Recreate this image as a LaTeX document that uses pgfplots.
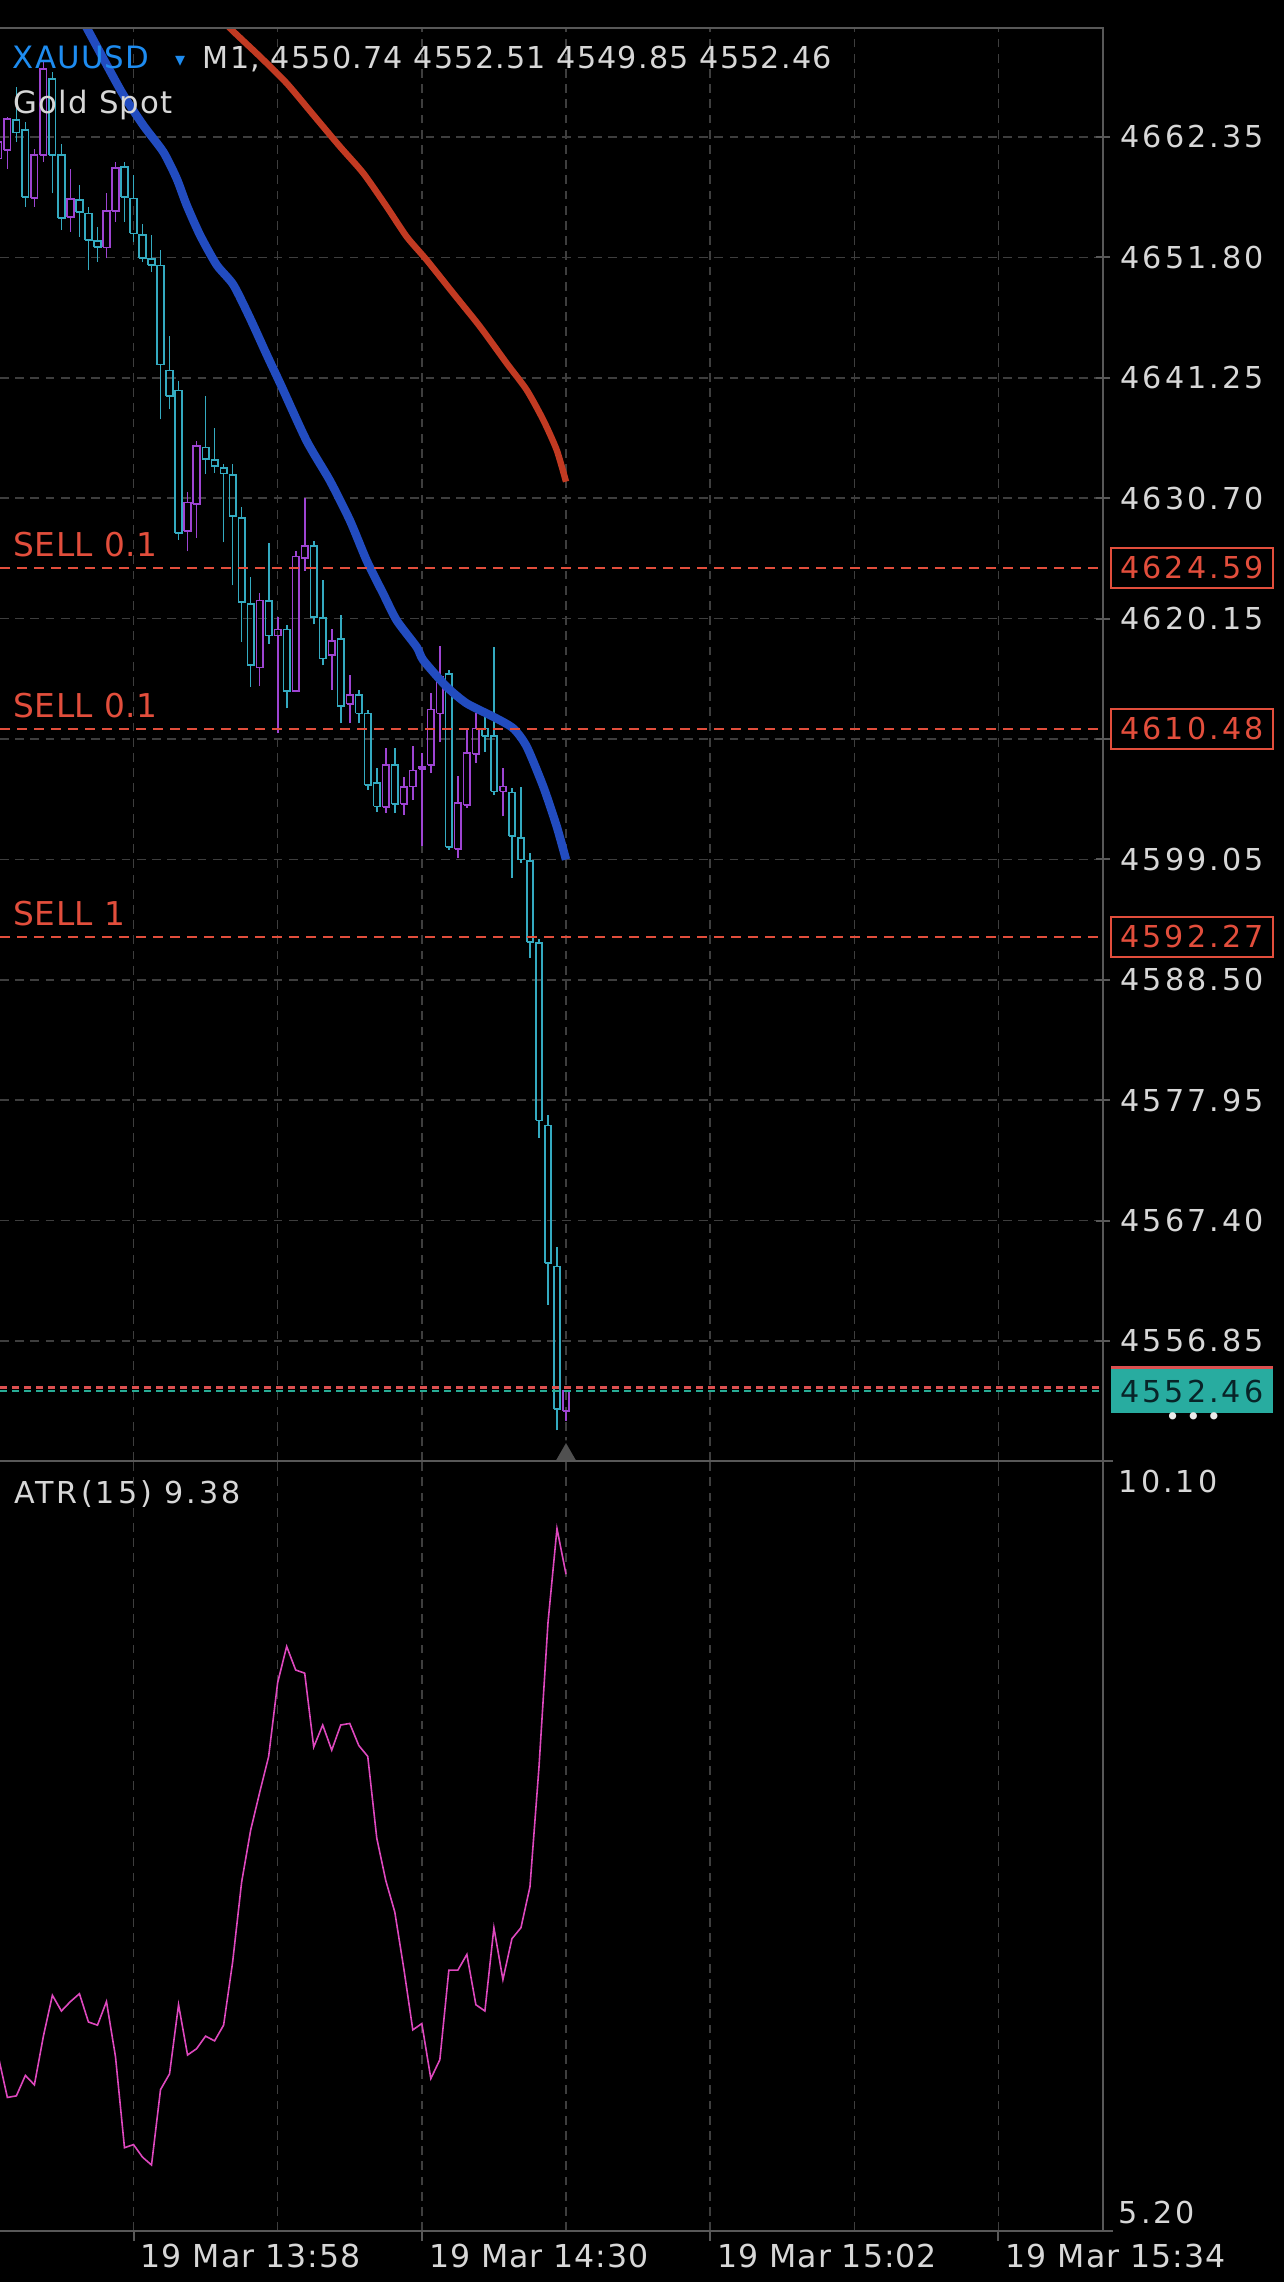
\documentclass[border=0pt]{standalone}
\usepackage{pgfplots}
\pgfplotsset{compat=1.18}
\usepackage{pgfplotstable}
\usepackage{fontspec}
\setmainfont{DejaVu Sans}
\newfontfamily\labfont[LetterSpace=10]{DejaVu Sans}
\newfontfamily\hdrfont[LetterSpace=4]{DejaVu Sans}
\newfontfamily\timfont[LetterSpace=3]{DejaVu Sans}
\newfontfamily\sellfont[LetterSpace=1.5]{DejaVu Sans}

\definecolor{bearc}{RGB}{52,170,192}
\definecolor{bullc}{RGB}{158,68,210}
\definecolor{mablue}{RGB}{34,76,192}
\definecolor{mared}{RGB}{194,58,34}
\definecolor{gridc}{RGB}{62,62,62}
\definecolor{axc}{RGB}{88,88,88}
\definecolor{labc}{RGB}{215,215,215}
\definecolor{sellred}{RGB}{226,78,60}
\definecolor{atrc}{RGB}{222,72,190}
\definecolor{xaublue}{RGB}{30,140,240}
\definecolor{tealbox}{RGB}{40,172,160}
\definecolor{tealtxt}{RGB}{8,36,40}
\definecolor{bidline}{RGB}{40,172,150}
\definecolor{askline}{RGB}{220,80,80}
\definecolor{trig}{RGB}{80,80,80}

% minute index (0 = 19 Mar 13:58), open, high, low, close
\pgfplotstableread{
m O H L C
-15 4660.46 4663.22 4659.29 4661.91
-14 4661.19 4664.10 4659.58 4663.95
-13 4663.81 4666.72 4661.91 4662.73
-12 4662.94 4663.66 4656.24 4657.11
-11 4657.02 4661.33 4656.24 4660.80
-10 4660.75 4668.90 4660.17 4668.31
-9 4667.44 4668.03 4657.40 4660.80
-8 4660.80 4661.77 4654.20 4655.28
-7 4655.36 4659.53 4654.05 4656.91
-6 4656.82 4658.13 4653.62 4655.80
-5 4655.65 4656.24 4650.71 4653.33
-4 4653.24 4654.49 4651.43 4652.74
-3 4652.68 4657.40 4651.72 4655.86
-2 4655.86 4660.17 4654.93 4659.64
-1 4659.73 4660.17 4654.93 4657.08
0 4656.96 4659.00 4653.18 4653.90
1 4653.76 4654.69 4651.43 4651.72
2 4651.67 4653.76 4650.56 4651.14
3 4651.08 4652.46 4637.61 4642.41
4 4641.89 4644.88 4638.48 4639.64
5 4640.14 4641.01 4627.04 4627.62
6 4627.85 4631.20 4626.04 4630.32
7 4630.18 4635.71 4627.21 4635.28
8 4635.13 4639.64 4632.86 4634.11
9 4634.03 4636.82 4632.94 4633.53
10 4633.33 4633.70 4626.83 4632.86
11 4632.74 4633.68 4623.05 4629.16
12 4628.96 4629.89 4618.10 4621.59
13 4621.45 4623.77 4614.17 4616.06
14 4615.86 4622.38 4614.23 4621.74
15 4621.68 4626.74 4617.96 4618.68
16 4618.68 4620.28 4610.10 4619.18
17 4619.18 4619.56 4612.28 4613.82
18 4613.82 4626.11 4613.70 4625.58
19 4625.47 4630.76 4624.36 4626.54
20 4626.54 4626.98 4619.64 4620.28
21 4620.23 4623.49 4616.06 4616.65
22 4616.94 4619.27 4613.88 4618.18
23 4618.39 4620.43 4610.97 4612.48
24 4612.66 4615.19 4610.97 4613.44
25 4613.44 4613.88 4610.97 4611.84
26 4611.84 4612.13 4605.15 4605.58
27 4605.76 4607.07 4603.22 4603.69
28 4603.63 4608.79 4603.11 4607.33
29 4607.33 4608.79 4603.11 4603.92
30 4603.92 4606.31 4602.96 4605.38
31 4605.43 4608.99 4604.27 4606.83
32 4606.95 4608.35 4600.19 4607.13
33 4607.33 4613.64 4606.60 4612.19
34 4611.84 4617.72 4609.36 4615.04
35 4615.28 4615.63 4599.90 4600.14
36 4599.97 4606.37 4599.18 4603.98
37 4603.84 4610.39 4603.55 4608.35
38 4608.29 4611.90 4607.48 4610.53
39 4610.53 4611.55 4608.49 4609.86
40 4609.86 4617.66 4604.71 4605.00
41 4605.00 4607.04 4602.81 4605.43
42 4604.91 4605.29 4597.43 4601.07
43 4600.93 4605.43 4598.74 4599.03
44 4598.88 4599.62 4590.45 4591.81
45 4591.70 4592.04 4574.64 4576.18
46 4575.74 4576.61 4560.02 4563.66
47 4563.37 4565.06 4549.01 4550.91
48 4550.74 4552.51 4549.85 4552.46
}\candles

\pgfplotstableread{
m atr
-15 6.31
-14 6.05
-13 6.06
-12 6.19
-11 6.13
-10 6.44
-9 6.70
-8 6.60
-7 6.66
-6 6.71
-5 6.53
-4 6.51
-3 6.66
-2 6.31
-1 5.73
0 5.75
1 5.67
2 5.62
3 6.10
4 6.20
5 6.64
6 6.32
7 6.36
8 6.44
9 6.41
10 6.51
11 6.91
12 7.42
13 7.75
14 7.99
15 8.22
16 8.69
17 8.92
18 8.77
19 8.75
20 8.28
21 8.42
22 8.26
23 8.42
24 8.43
25 8.29
26 8.22
27 7.70
28 7.43
29 7.23
30 6.87
31 6.48
32 6.52
33 6.17
34 6.29
35 6.86
36 6.86
37 6.96
38 6.64
39 6.60
40 7.13
41 6.80
42 7.06
43 7.13
44 7.39
45 8.15
46 9.07
47 9.67
48 9.38
}\atrtable

\tikzset{
  ticklab/.style={font=\labfont\fontsize{7.55}{9}\selectfont, text=labc, inner sep=0pt},
  pricebox/.style={anchor=west, xshift=1.75pt, font=\labfont\fontsize{7.55}{9}\selectfont,
     inner xsep=2.4pt, inner ysep=0pt, minimum height=10pt},
  selllab/.style={anchor=base west, xshift=3.2pt, yshift=2.9pt, inner sep=0pt,
     font=\sellfont\fontsize{8.2}{9}\selectfont, text=sellred},
}

\begin{document}
\begin{tikzpicture}
\path[use as bounding box, fill=black] (0,0) rectangle (321pt,-570.5pt);
\pgfplotstablegetrowsof{\candles}
\pgfmathtruncatemacro{\lastrow}{\pgfplotsretval-1}

\begin{axis}[name=main, at={(0pt,-7pt)}, anchor=north west, scale only axis,
  width=275.75pt, height=358.25pt,
  xmin=-14.817, xmax=107.6, ymin=4546.33, ymax=4671.90,
  axis line style={draw=none}, clip mode=individual,
  xtick={0,16,...,96}, xticklabels={,,,,,,,,,}, xtick style={draw=none},
  ytick={4556.85,4567.40,4577.95,4588.50,4599.05,4609.60,4620.15,4630.70,4641.25,4651.80,4662.35},
  yticklabels={,,,,,,,,,,,,,}, ytick pos=right, tick align=center, major tick length=3.5pt,
  ytick style={draw=axc, line width=0.5pt},
  xmajorgrids, ymajorgrids,
  major grid style={draw=gridc, line width=0.4pt, dash pattern=on 2.2pt off 1.6pt},
]
% candles: hollow body + upper and lower wick, drawn from the table rows
\pgfplotsinvokeforeach{0,...,\lastrow}{%
  \pgfplotstablegetelem{#1}{m}\of\candles\edef\cm{\pgfplotsretval}%
  \pgfplotstablegetelem{#1}{O}\of\candles\edef\cO{\pgfplotsretval}%
  \pgfplotstablegetelem{#1}{H}\of\candles\edef\cH{\pgfplotsretval}%
  \pgfplotstablegetelem{#1}{L}\of\candles\edef\cL{\pgfplotsretval}%
  \pgfplotstablegetelem{#1}{C}\of\candles\edef\cC{\pgfplotsretval}%
  \ifdim\cC pt<\cO pt\relax
    \def\ccol{bearc}\let\lo\cC\let\hi\cO
  \else
    \def\ccol{bullc}\let\lo\cO\let\hi\cC
  \fi
  \pgfmathsetmacro\xa{\cm-0.36}%
  \pgfmathsetmacro\xb{\cm+0.36}%
  \edef\doplot{%
    \noexpand\addplot[draw=\ccol, line width=0.42pt, line join=miter]
      coordinates {(\xa,\lo) (\xb,\lo) (\xb,\hi) (\xa,\hi) (\xa,\lo)};
    \noexpand\addplot[draw=\ccol, line width=0.42pt] coordinates {(\cm,\hi) (\cm,\cH)};
    \noexpand\addplot[draw=\ccol, line width=0.42pt] coordinates {(\cm,\cL) (\cm,\lo)};
  }%
  \doplot
}
% moving averages
\addplot[mablue, line width=2.1pt, smooth, tension=0.4] coordinates {
(-5.7,4672.65) (-5.16,4671.87) (-1.31,4666.28) (1.09,4663.37) (3.31,4661.04) (4.79,4658.71)
(5.90,4656.38) (7.38,4653.76) (9.23,4651.14) (11.08,4649.40) (12.93,4646.48) (14.78,4643.28)
(16.37,4640.60) (19.22,4635.71) (21.81,4632.22) (24.03,4628.73) (25.88,4625.23) (27.72,4622.32)
(29.21,4619.99) (31.43,4617.66) (32.16,4616.50) (34.76,4614.17) (36.98,4612.72) (39.93,4611.55)
(42.15,4610.53) (43.64,4608.93) (45.48,4605.43) (46.97,4601.94) (48.0,4599.03)};
\addplot[mared, line width=1.6pt, smooth, tension=0.4] coordinates {
(10.0,4672.6) (10.71,4671.88) (14.04,4669.39) (17.00,4667.06) (19.96,4664.28) (22.92,4661.50)
(25.51,4659.17) (28.10,4656.24) (30.32,4653.61) (32.54,4651.57) (35.49,4648.65) (38.46,4645.73)
(41.42,4642.52) (43.64,4640.18) (45.48,4637.55) (46.97,4634.92) (48.0,4632.15)};
% order lines
\addplot[sellred, line width=0.45pt, dash pattern=on 2.5pt off 1.75pt] coordinates {(-14.817,4624.59) (107.6,4624.59)};
\addplot[sellred, line width=0.45pt, dash pattern=on 2.5pt off 1.75pt] coordinates {(-14.817,4610.48) (107.6,4610.48)};
\addplot[sellred, line width=0.45pt, dash pattern=on 2.5pt off 1.75pt] coordinates {(-14.817,4592.27) (107.6,4592.27)};
% bid / ask lines
\addplot[askline, line width=0.7pt, dash pattern=on 1.7pt off 1.3pt] coordinates {(-14.817,4552.75) (107.6,4552.75)};
\addplot[bidline, line width=0.7pt, dash pattern=on 1.7pt off 1.3pt] coordinates {(-14.817,4552.46) (107.6,4552.46)};
% current bar marker
\addplot[only marks, mark=triangle*, mark size=3.3pt, mark options={fill=trig, draw=none}] coordinates {(48,4546.91)};

% price scale labels (4609.60 is hidden behind the 4610.48 order box)
\pgfplotsinvokeforeach{4662.35,4651.80,4641.25,4630.70,4620.15,4599.05,4588.50,4577.95,4567.40,4556.85}{%
  \node[ticklab, anchor=west, xshift=4.2pt] at (axis cs:107.6,#1) {#1};}
% order labels
\node[selllab] at (axis cs:-14.817,4624.59) {SELL 0.1};
\node[selllab] at (axis cs:-14.817,4610.48) {SELL 0.1};
\node[selllab] at (axis cs:-14.817,4592.27) {SELL 1};
\node[pricebox, draw=sellred, line width=0.45pt, fill=black, text=sellred] at (axis cs:107.6,4624.59) {4624.59};
\node[pricebox, draw=sellred, line width=0.45pt, fill=black, text=sellred] at (axis cs:107.6,4610.48) {4610.48};
\node[pricebox, draw=sellred, line width=0.45pt, fill=black, text=sellred] at (axis cs:107.6,4592.27) {4592.27};
\node[pricebox, minimum height=11.1pt, fill=askline, yshift=0.6pt] at (axis cs:107.6,4552.46) {\phantom{\labfont 4552.46}};
\node[pricebox, minimum height=11.1pt, fill=tealbox, text=tealtxt] at (axis cs:107.6,4552.46) {4552.46};
\node[text=white!92!black, inner sep=0pt, font=\fontsize{6.2}{6.2}\selectfont, xshift=22.6pt, yshift=-6.9pt]
   at (axis cs:107.6,4552.46) {•\hspace{1.5pt}•\hspace{1.5pt}•};
\end{axis}

\begin{axis}[name=atr, at={(0pt,-365.25pt)}, anchor=north west, scale only axis,
  width=275.75pt, height=192.5pt,
  xmin=-14.817, xmax=107.6, ymin=5.20, ymax=10.10,
  axis line style={draw=none}, clip mode=individual,
  xtick={0,32,64,96}, minor xtick={16,48,80}, xticklabels={,,,,,,}, xtick pos=left,
  ytick={5.20,10.10}, yticklabels={,,,,}, ytick pos=right,
  tick align=outside, major tick length=2.4pt, minor tick length=0pt,
  tick style={draw=axc, line width=0.5pt},
  xmajorgrids, xminorgrids,
  major grid style={draw=gridc, line width=0.4pt, dash pattern=on 2.2pt off 1.6pt},
  minor grid style={draw=gridc, line width=0.4pt, dash pattern=on 2.2pt off 1.6pt},
]
\addplot[atrc, line width=0.4pt] table[x=m, y=atr] {\atrtable};
\node[anchor=base west, inner sep=0pt, xshift=1.6pt, yshift=-9.2pt, font=\timfont\fontsize{7.9}{9}\selectfont, text=labc] at (axis cs:0,5.2) {19 Mar 13:58};
\node[anchor=base west, inner sep=0pt, xshift=1.6pt, yshift=-9.2pt, font=\timfont\fontsize{7.9}{9}\selectfont, text=labc] at (axis cs:32,5.2) {19 Mar 14:30};
\node[anchor=base west, inner sep=0pt, xshift=1.6pt, yshift=-9.2pt, font=\timfont\fontsize{7.9}{9}\selectfont, text=labc] at (axis cs:64,5.2) {19 Mar 15:02};
\node[anchor=base west, inner sep=0pt, xshift=1.6pt, yshift=-9.2pt, font=\timfont\fontsize{7.9}{9}\selectfont, text=labc] at (axis cs:96,5.2) {19 Mar 15:34};
\end{axis}

% frame
\draw[axc, line width=0.5pt] (main.north west) -- (main.north east) -- (atr.south east);
\draw[axc, line width=0.5pt] (main.south west) -- (main.south east);
\draw[axc, line width=0.5pt] (atr.south west) -- (atr.south east);

% header and indicator texts
\node[anchor=base west, inner sep=0pt, font=\hdrfont\fontsize{7.7}{9}\selectfont, text=xaublue] at (3.0pt,-17.08pt) {XAUUSD};
\node[anchor=base west, inner sep=0pt, font=\fontsize{5}{6}\selectfont, text=xaublue] at (43.6pt,-16.6pt) {▾};
\node[anchor=base west, inner sep=0pt, font=\hdrfont\fontsize{7.55}{9}\selectfont, text=labc] at (50.5pt,-17.08pt) {M1, 4550.74 4552.51 4549.85 4552.46};
\node[anchor=base west, inner sep=0pt, font=\hdrfont\fontsize{7.7}{9}\selectfont, text=labc] at (3.2pt,-28.3pt) {Gold Spot};
\node[anchor=base west, inner sep=0pt, font=\labfont\fontsize{7.55}{9}\selectfont, text=labc] at (3.35pt,-375.75pt) {ATR(15) 9.38};
\node[anchor=base west, inner sep=0pt, font=\labfont\fontsize{7.55}{9}\selectfont, text=labc] at (279.5pt,-373pt) {10.10};
\node[anchor=base west, inner sep=0pt, font=\labfont\fontsize{7.55}{9}\selectfont, text=labc] at (279.5pt,-555.8pt) {5.20};
\end{tikzpicture}
\end{document}
